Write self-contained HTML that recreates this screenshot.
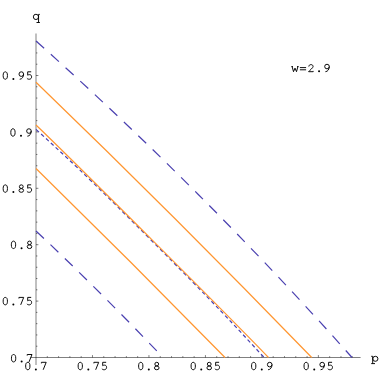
<!DOCTYPE html><html><head><meta charset="utf-8"><style>html,body{margin:0;padding:0;background:#fff}svg{display:block}text{font-family:"Liberation Mono",monospace;font-size:12px;fill:#222}</style></head><body>
<svg width="382" height="382" viewBox="0 0 382 382">
<rect width="382" height="382" fill="#fff"/>
<g stroke="#000" stroke-width="0.5" fill="none">
<line x1="36.0" y1="33.5" x2="36.0" y2="365.0"/>
<line x1="30.6" y1="357.5" x2="360.6" y2="357.5"/>
<line x1="47.30" y1="357.5" x2="47.30" y2="356.1"/>
<line x1="36.0" y1="346.22" x2="37.4" y2="346.22"/>
<line x1="58.59" y1="357.5" x2="58.59" y2="356.1"/>
<line x1="36.0" y1="334.94" x2="37.4" y2="334.94"/>
<line x1="69.89" y1="357.5" x2="69.89" y2="356.1"/>
<line x1="36.0" y1="323.66" x2="37.4" y2="323.66"/>
<line x1="81.18" y1="357.5" x2="81.18" y2="356.1"/>
<line x1="36.0" y1="312.38" x2="37.4" y2="312.38"/>
<line x1="92.48" y1="357.5" x2="92.48" y2="355.1"/>
<line x1="36.0" y1="301.10" x2="38.4" y2="301.10"/>
<line x1="103.77" y1="357.5" x2="103.77" y2="356.1"/>
<line x1="36.0" y1="289.82" x2="37.4" y2="289.82"/>
<line x1="115.07" y1="357.5" x2="115.07" y2="356.1"/>
<line x1="36.0" y1="278.54" x2="37.4" y2="278.54"/>
<line x1="126.36" y1="357.5" x2="126.36" y2="356.1"/>
<line x1="36.0" y1="267.26" x2="37.4" y2="267.26"/>
<line x1="137.65" y1="357.5" x2="137.65" y2="356.1"/>
<line x1="36.0" y1="255.98" x2="37.4" y2="255.98"/>
<line x1="148.95" y1="357.5" x2="148.95" y2="355.1"/>
<line x1="36.0" y1="244.70" x2="38.4" y2="244.70"/>
<line x1="160.25" y1="357.5" x2="160.25" y2="356.1"/>
<line x1="36.0" y1="233.42" x2="37.4" y2="233.42"/>
<line x1="171.54" y1="357.5" x2="171.54" y2="356.1"/>
<line x1="36.0" y1="222.14" x2="37.4" y2="222.14"/>
<line x1="182.84" y1="357.5" x2="182.84" y2="356.1"/>
<line x1="36.0" y1="210.86" x2="37.4" y2="210.86"/>
<line x1="194.13" y1="357.5" x2="194.13" y2="356.1"/>
<line x1="36.0" y1="199.58" x2="37.4" y2="199.58"/>
<line x1="205.43" y1="357.5" x2="205.43" y2="355.1"/>
<line x1="36.0" y1="188.30" x2="38.4" y2="188.30"/>
<line x1="216.72" y1="357.5" x2="216.72" y2="356.1"/>
<line x1="36.0" y1="177.02" x2="37.4" y2="177.02"/>
<line x1="228.02" y1="357.5" x2="228.02" y2="356.1"/>
<line x1="36.0" y1="165.74" x2="37.4" y2="165.74"/>
<line x1="239.31" y1="357.5" x2="239.31" y2="356.1"/>
<line x1="36.0" y1="154.46" x2="37.4" y2="154.46"/>
<line x1="250.60" y1="357.5" x2="250.60" y2="356.1"/>
<line x1="36.0" y1="143.18" x2="37.4" y2="143.18"/>
<line x1="261.90" y1="357.5" x2="261.90" y2="355.1"/>
<line x1="36.0" y1="131.90" x2="38.4" y2="131.90"/>
<line x1="273.19" y1="357.5" x2="273.19" y2="356.1"/>
<line x1="36.0" y1="120.62" x2="37.4" y2="120.62"/>
<line x1="284.49" y1="357.5" x2="284.49" y2="356.1"/>
<line x1="36.0" y1="109.34" x2="37.4" y2="109.34"/>
<line x1="295.78" y1="357.5" x2="295.78" y2="356.1"/>
<line x1="36.0" y1="98.06" x2="37.4" y2="98.06"/>
<line x1="307.08" y1="357.5" x2="307.08" y2="356.1"/>
<line x1="36.0" y1="86.78" x2="37.4" y2="86.78"/>
<line x1="318.38" y1="357.5" x2="318.38" y2="355.1"/>
<line x1="36.0" y1="75.50" x2="38.4" y2="75.50"/>
<line x1="329.67" y1="357.5" x2="329.67" y2="356.1"/>
<line x1="36.0" y1="64.22" x2="37.4" y2="64.22"/>
<line x1="340.97" y1="357.5" x2="340.97" y2="356.1"/>
<line x1="36.0" y1="52.94" x2="37.4" y2="52.94"/>
<line x1="352.26" y1="357.5" x2="352.26" y2="356.1"/>
<line x1="36.0" y1="41.66" x2="37.4" y2="41.66"/>
</g>
<g stroke="#4a40b0" stroke-width="1.2" fill="none">
<path d="M36.00 41.00 Q203.05 190.20 352.00 357.50" stroke-dasharray="10.9 9.015"/>
<path d="M36.00 231.00 Q101.34 292.41 163.00 357.50" stroke-dasharray="10.9 9.015"/>
<path d="M36.00 129.40 C66.00 156.80 83.00 172.00 150.00 239.00 C217.00 306.00 234.00 324.80 264.10 357.50" stroke-dasharray="3.8 2.83"/>
</g>
<g stroke="#ff9630" stroke-width="1.2" fill="none">
<path d="M36.00 82.20 Q176.25 217.45 311.70 357.50"/>
<path d="M36.00 125.00 C71.67 159.07 234.38 321.82 268.45 357.50"/>
<path d="M36.00 168.50 Q131.49 262.01 225.00 357.50"/>
</g>
<path transform="translate(27.80,369.75)" d="M-2.15,-3.73C-2.15,-6.18 -1.42,-7.45 0.00,-7.45C1.42,-7.45 2.15,-6.18 2.15,-3.73C2.15,-1.27 1.42,0.00 0.00,0.00C-1.42,0.00 -2.15,-1.27 -2.15,-3.73Z" fill="none" stroke="#000" stroke-width="0.95" stroke-linecap="butt" stroke-linejoin="round"/><path transform="translate(35.80,369.75)" d="M-0.95,-0.35A1.00,1.00 0 1 0 1.05,-0.35A1.00,1.00 0 1 0 -0.95,-0.35Z" fill="#000" stroke="none"/><path transform="translate(43.80,369.75)" d="M-2.4,-6.35V-7.45H2.4L-0.6,0" fill="none" stroke="#000" stroke-width="0.95" stroke-linecap="butt" stroke-linejoin="round"/>
<path transform="translate(13.60,361.95)" d="M-2.15,-3.73C-2.15,-6.18 -1.42,-7.45 0.00,-7.45C1.42,-7.45 2.15,-6.18 2.15,-3.73C2.15,-1.27 1.42,0.00 0.00,0.00C-1.42,0.00 -2.15,-1.27 -2.15,-3.73Z" fill="none" stroke="#000" stroke-width="0.95" stroke-linecap="butt" stroke-linejoin="round"/><path transform="translate(21.60,361.95)" d="M-0.95,-0.35A1.00,1.00 0 1 0 1.05,-0.35A1.00,1.00 0 1 0 -0.95,-0.35Z" fill="#000" stroke="none"/><path transform="translate(29.60,361.95)" d="M-2.4,-6.35V-7.45H2.4L-0.6,0" fill="none" stroke="#000" stroke-width="0.95" stroke-linecap="butt" stroke-linejoin="round"/>
<path transform="translate(80.28,369.75)" d="M-2.15,-3.73C-2.15,-6.18 -1.42,-7.45 0.00,-7.45C1.42,-7.45 2.15,-6.18 2.15,-3.73C2.15,-1.27 1.42,0.00 0.00,0.00C-1.42,0.00 -2.15,-1.27 -2.15,-3.73Z" fill="none" stroke="#000" stroke-width="0.95" stroke-linecap="butt" stroke-linejoin="round"/><path transform="translate(88.28,369.75)" d="M-0.95,-0.35A1.00,1.00 0 1 0 1.05,-0.35A1.00,1.00 0 1 0 -0.95,-0.35Z" fill="#000" stroke="none"/><path transform="translate(96.28,369.75)" d="M-2.4,-6.35V-7.45H2.4L-0.6,0" fill="none" stroke="#000" stroke-width="0.95" stroke-linecap="butt" stroke-linejoin="round"/><path transform="translate(104.28,369.75)" d="M1.9,-7.45H-1.6V-4.05C-0.6,-4.85 2.3,-5.15 2.3,-2.4C2.3,0.4 -1.2,0.6 -2.4,-1.0" fill="none" stroke="#000" stroke-width="0.95" stroke-linecap="butt" stroke-linejoin="round"/>
<path transform="translate(5.30,304.85)" d="M-2.15,-3.73C-2.15,-6.18 -1.42,-7.45 0.00,-7.45C1.42,-7.45 2.15,-6.18 2.15,-3.73C2.15,-1.27 1.42,0.00 0.00,0.00C-1.42,0.00 -2.15,-1.27 -2.15,-3.73Z" fill="none" stroke="#000" stroke-width="0.95" stroke-linecap="butt" stroke-linejoin="round"/><path transform="translate(13.30,304.85)" d="M-0.95,-0.35A1.00,1.00 0 1 0 1.05,-0.35A1.00,1.00 0 1 0 -0.95,-0.35Z" fill="#000" stroke="none"/><path transform="translate(21.30,304.85)" d="M-2.4,-6.35V-7.45H2.4L-0.6,0" fill="none" stroke="#000" stroke-width="0.95" stroke-linecap="butt" stroke-linejoin="round"/><path transform="translate(29.30,304.85)" d="M1.9,-7.45H-1.6V-4.05C-0.6,-4.85 2.3,-5.15 2.3,-2.4C2.3,0.4 -1.2,0.6 -2.4,-1.0" fill="none" stroke="#000" stroke-width="0.95" stroke-linecap="butt" stroke-linejoin="round"/>
<path transform="translate(140.75,369.75)" d="M-2.15,-3.73C-2.15,-6.18 -1.42,-7.45 0.00,-7.45C1.42,-7.45 2.15,-6.18 2.15,-3.73C2.15,-1.27 1.42,0.00 0.00,0.00C-1.42,0.00 -2.15,-1.27 -2.15,-3.73Z" fill="none" stroke="#000" stroke-width="0.95" stroke-linecap="butt" stroke-linejoin="round"/><path transform="translate(148.75,369.75)" d="M-0.95,-0.35A1.00,1.00 0 1 0 1.05,-0.35A1.00,1.00 0 1 0 -0.95,-0.35Z" fill="#000" stroke="none"/><path transform="translate(156.75,369.75)" d="M-1.90,-5.65A1.90,1.80 0 1 0 1.90,-5.65A1.90,1.80 0 1 0 -1.90,-5.65ZM-2.30,-1.85A2.30,1.85 0 1 0 2.30,-1.85A2.30,1.85 0 1 0 -2.30,-1.85Z" fill="none" stroke="#000" stroke-width="0.95" stroke-linecap="butt" stroke-linejoin="round"/>
<path transform="translate(13.50,248.55)" d="M-2.15,-3.73C-2.15,-6.18 -1.42,-7.45 0.00,-7.45C1.42,-7.45 2.15,-6.18 2.15,-3.73C2.15,-1.27 1.42,0.00 0.00,0.00C-1.42,0.00 -2.15,-1.27 -2.15,-3.73Z" fill="none" stroke="#000" stroke-width="0.95" stroke-linecap="butt" stroke-linejoin="round"/><path transform="translate(21.50,248.55)" d="M-0.95,-0.35A1.00,1.00 0 1 0 1.05,-0.35A1.00,1.00 0 1 0 -0.95,-0.35Z" fill="#000" stroke="none"/><path transform="translate(29.50,248.55)" d="M-1.90,-5.65A1.90,1.80 0 1 0 1.90,-5.65A1.90,1.80 0 1 0 -1.90,-5.65ZM-2.30,-1.85A2.30,1.85 0 1 0 2.30,-1.85A2.30,1.85 0 1 0 -2.30,-1.85Z" fill="none" stroke="#000" stroke-width="0.95" stroke-linecap="butt" stroke-linejoin="round"/>
<path transform="translate(193.23,369.75)" d="M-2.15,-3.73C-2.15,-6.18 -1.42,-7.45 0.00,-7.45C1.42,-7.45 2.15,-6.18 2.15,-3.73C2.15,-1.27 1.42,0.00 0.00,0.00C-1.42,0.00 -2.15,-1.27 -2.15,-3.73Z" fill="none" stroke="#000" stroke-width="0.95" stroke-linecap="butt" stroke-linejoin="round"/><path transform="translate(201.23,369.75)" d="M-0.95,-0.35A1.00,1.00 0 1 0 1.05,-0.35A1.00,1.00 0 1 0 -0.95,-0.35Z" fill="#000" stroke="none"/><path transform="translate(209.23,369.75)" d="M-1.90,-5.65A1.90,1.80 0 1 0 1.90,-5.65A1.90,1.80 0 1 0 -1.90,-5.65ZM-2.30,-1.85A2.30,1.85 0 1 0 2.30,-1.85A2.30,1.85 0 1 0 -2.30,-1.85Z" fill="none" stroke="#000" stroke-width="0.95" stroke-linecap="butt" stroke-linejoin="round"/><path transform="translate(217.23,369.75)" d="M1.9,-7.45H-1.6V-4.05C-0.6,-4.85 2.3,-5.15 2.3,-2.4C2.3,0.4 -1.2,0.6 -2.4,-1.0" fill="none" stroke="#000" stroke-width="0.95" stroke-linecap="butt" stroke-linejoin="round"/>
<path transform="translate(5.30,192.30)" d="M-2.15,-3.73C-2.15,-6.18 -1.42,-7.45 0.00,-7.45C1.42,-7.45 2.15,-6.18 2.15,-3.73C2.15,-1.27 1.42,0.00 0.00,0.00C-1.42,0.00 -2.15,-1.27 -2.15,-3.73Z" fill="none" stroke="#000" stroke-width="0.95" stroke-linecap="butt" stroke-linejoin="round"/><path transform="translate(13.30,192.30)" d="M-0.95,-0.35A1.00,1.00 0 1 0 1.05,-0.35A1.00,1.00 0 1 0 -0.95,-0.35Z" fill="#000" stroke="none"/><path transform="translate(21.30,192.30)" d="M-1.90,-5.65A1.90,1.80 0 1 0 1.90,-5.65A1.90,1.80 0 1 0 -1.90,-5.65ZM-2.30,-1.85A2.30,1.85 0 1 0 2.30,-1.85A2.30,1.85 0 1 0 -2.30,-1.85Z" fill="none" stroke="#000" stroke-width="0.95" stroke-linecap="butt" stroke-linejoin="round"/><path transform="translate(29.30,192.30)" d="M1.9,-7.45H-1.6V-4.05C-0.6,-4.85 2.3,-5.15 2.3,-2.4C2.3,0.4 -1.2,0.6 -2.4,-1.0" fill="none" stroke="#000" stroke-width="0.95" stroke-linecap="butt" stroke-linejoin="round"/>
<path transform="translate(253.70,369.75)" d="M-2.15,-3.73C-2.15,-6.18 -1.42,-7.45 0.00,-7.45C1.42,-7.45 2.15,-6.18 2.15,-3.73C2.15,-1.27 1.42,0.00 0.00,0.00C-1.42,0.00 -2.15,-1.27 -2.15,-3.73Z" fill="none" stroke="#000" stroke-width="0.95" stroke-linecap="butt" stroke-linejoin="round"/><path transform="translate(261.70,369.75)" d="M-0.95,-0.35A1.00,1.00 0 1 0 1.05,-0.35A1.00,1.00 0 1 0 -0.95,-0.35Z" fill="#000" stroke="none"/><path transform="translate(269.70,369.75)" d="M-2.30,-5.15A2.30,2.30 0 1 0 2.30,-5.15A2.30,2.30 0 1 0 -2.30,-5.15ZM2.3,-5.15C2.3,-2.6 0.8,0 -1.6,0" fill="none" stroke="#000" stroke-width="0.95" stroke-linecap="butt" stroke-linejoin="round"/>
<path transform="translate(12.95,136.20)" d="M-2.15,-3.73C-2.15,-6.18 -1.42,-7.45 0.00,-7.45C1.42,-7.45 2.15,-6.18 2.15,-3.73C2.15,-1.27 1.42,0.00 0.00,0.00C-1.42,0.00 -2.15,-1.27 -2.15,-3.73Z" fill="none" stroke="#000" stroke-width="0.95" stroke-linecap="butt" stroke-linejoin="round"/><path transform="translate(20.95,136.20)" d="M-0.95,-0.35A1.00,1.00 0 1 0 1.05,-0.35A1.00,1.00 0 1 0 -0.95,-0.35Z" fill="#000" stroke="none"/><path transform="translate(28.95,136.20)" d="M-2.30,-5.15A2.30,2.30 0 1 0 2.30,-5.15A2.30,2.30 0 1 0 -2.30,-5.15ZM2.3,-5.15C2.3,-2.6 0.8,0 -1.6,0" fill="none" stroke="#000" stroke-width="0.95" stroke-linecap="butt" stroke-linejoin="round"/>
<path transform="translate(306.18,369.75)" d="M-2.15,-3.73C-2.15,-6.18 -1.42,-7.45 0.00,-7.45C1.42,-7.45 2.15,-6.18 2.15,-3.73C2.15,-1.27 1.42,0.00 0.00,0.00C-1.42,0.00 -2.15,-1.27 -2.15,-3.73Z" fill="none" stroke="#000" stroke-width="0.95" stroke-linecap="butt" stroke-linejoin="round"/><path transform="translate(314.18,369.75)" d="M-0.95,-0.35A1.00,1.00 0 1 0 1.05,-0.35A1.00,1.00 0 1 0 -0.95,-0.35Z" fill="#000" stroke="none"/><path transform="translate(322.18,369.75)" d="M-2.30,-5.15A2.30,2.30 0 1 0 2.30,-5.15A2.30,2.30 0 1 0 -2.30,-5.15ZM2.3,-5.15C2.3,-2.6 0.8,0 -1.6,0" fill="none" stroke="#000" stroke-width="0.95" stroke-linecap="butt" stroke-linejoin="round"/><path transform="translate(330.18,369.75)" d="M1.9,-7.45H-1.6V-4.05C-0.6,-4.85 2.3,-5.15 2.3,-2.4C2.3,0.4 -1.2,0.6 -2.4,-1.0" fill="none" stroke="#000" stroke-width="0.95" stroke-linecap="butt" stroke-linejoin="round"/>
<path transform="translate(5.30,79.25)" d="M-2.15,-3.73C-2.15,-6.18 -1.42,-7.45 0.00,-7.45C1.42,-7.45 2.15,-6.18 2.15,-3.73C2.15,-1.27 1.42,0.00 0.00,0.00C-1.42,0.00 -2.15,-1.27 -2.15,-3.73Z" fill="none" stroke="#000" stroke-width="0.95" stroke-linecap="butt" stroke-linejoin="round"/><path transform="translate(13.30,79.25)" d="M-0.95,-0.35A1.00,1.00 0 1 0 1.05,-0.35A1.00,1.00 0 1 0 -0.95,-0.35Z" fill="#000" stroke="none"/><path transform="translate(21.30,79.25)" d="M-2.30,-5.15A2.30,2.30 0 1 0 2.30,-5.15A2.30,2.30 0 1 0 -2.30,-5.15ZM2.3,-5.15C2.3,-2.6 0.8,0 -1.6,0" fill="none" stroke="#000" stroke-width="0.95" stroke-linecap="butt" stroke-linejoin="round"/><path transform="translate(29.30,79.25)" d="M1.9,-7.45H-1.6V-4.05C-0.6,-4.85 2.3,-5.15 2.3,-2.4C2.3,0.4 -1.2,0.6 -2.4,-1.0" fill="none" stroke="#000" stroke-width="0.95" stroke-linecap="butt" stroke-linejoin="round"/>
<path transform="translate(36.50,19.50)" d="M3.3,-5.1H2.05V3.0M3.4,3.0H0.0M-3.15,-2.60A2.60,2.65 0 1 0 2.05,-2.60A2.60,2.65 0 1 0 -3.15,-2.60Z" fill="none" stroke="#000" stroke-width="0.95" stroke-linecap="butt" stroke-linejoin="round"/>
<path transform="translate(374.40,361.30)" d="M-3.2,-5.0H-1.7V2.3M-3.2,2.3H0.6M-1.65,-2.50A2.60,2.50 0 1 0 3.55,-2.50A2.60,2.50 0 1 0 -1.65,-2.50Z" fill="none" stroke="#000" stroke-width="0.95" stroke-linecap="butt" stroke-linejoin="round"/>
<path transform="translate(295.00,71.70)" d="M-3.6,-5.1H-2.0M2.0,-5.1H3.6M-2.9,-5.1L-1.5,0L0,-3.6L1.5,0L2.9,-5.1" fill="none" stroke="#000" stroke-width="0.95" stroke-linecap="butt" stroke-linejoin="round"/><path transform="translate(303.00,71.70)" d="M-3.1,-4.1H3.1M-3.1,-1.9H3.1" fill="none" stroke="#000" stroke-width="0.95" stroke-linecap="butt" stroke-linejoin="round"/><path transform="translate(311.00,71.70)" d="M-2.2,-5.15C-2.2,-7.70 2.1,-7.70 2.1,-5.25C2.1,-3.75 -1.0,-1.8 -2.4,0H2.2V-0.8" fill="none" stroke="#000" stroke-width="0.95" stroke-linecap="butt" stroke-linejoin="round"/><path transform="translate(319.00,71.70)" d="M-0.95,-0.35A1.00,1.00 0 1 0 1.05,-0.35A1.00,1.00 0 1 0 -0.95,-0.35Z" fill="#000" stroke="none"/><path transform="translate(327.00,71.70)" d="M-2.30,-5.15A2.30,2.30 0 1 0 2.30,-5.15A2.30,2.30 0 1 0 -2.30,-5.15ZM2.3,-5.15C2.3,-2.6 0.8,0 -1.6,0" fill="none" stroke="#000" stroke-width="0.95" stroke-linecap="butt" stroke-linejoin="round"/>
</svg></body></html>
